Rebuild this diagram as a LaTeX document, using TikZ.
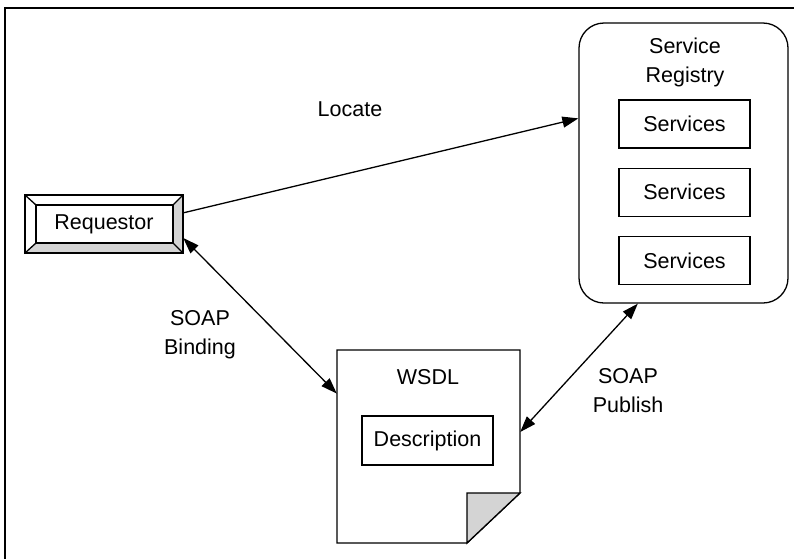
\documentclass[tikz,border=0pt]{standalone}
\usepackage{fontspec}
\setmainfont{Liberation Sans}
\usetikzlibrary{arrows.meta,calc,positioning}
\definecolor{BevelGray}{HTML}{D4D4D4}
\tikzset{
  lbl/.style={font=\fontsize{21.5}{29}\selectfont,align=center,inner sep=0pt},
  svcbox/.style={draw,line width=1.3pt,minimum width=131pt,minimum height=48pt,
    inner sep=0pt,font=\fontsize{21.5}{26}\selectfont},
  link/.style={line width=1.3pt,{Triangle[length=16pt,width=11pt]}-{Triangle[length=16pt,width=11pt]}}
}
\begin{document}
\begin{tikzpicture}[x=1pt,y=-1pt]

        \useasboundingbox (0,0) rectangle (794,558);
        \draw[line width=1.3pt] (5,8) rectangle (820,580);

        % requestor with bevel
        \node[minimum width=158pt,minimum height=58pt,inner sep=0pt]
          (req) at (104,224) {};
        \fill[white] (25,195) -- (183,195) -- (173,205) -- (36,205) -- (36,243) -- (25,253) -- cycle;
        \fill[BevelGray] (183,195) -- (183,253) -- (25,253) -- (36,243) -- (173,243) -- (173,205) -- cycle;
        \draw[line width=1.3pt] (25,195) -- (36,205) (183,195) -- (173,205)
          (183,253) -- (173,243) (25,253) -- (36,243);
        \draw[line width=1.3pt] (36,205) rectangle (173,243);
        \draw[line width=2pt] (25,195) rectangle (183,253);
        \node[lbl] at (req) {Requestor};

        % service registry
        \node[draw,rounded corners=25pt,line width=1.3pt,minimum width=209pt,
          minimum height=280pt,inner sep=0pt] (reg) at (683.5,163) {};
        \node[lbl] (regtitle) at (685,62) {Service\\Registry};
        \node[svcbox] (svc1) at (684.5,124) {Services};
        \node[svcbox,below=19pt of svc1] (svc2) {Services};
        \node[svcbox,below=19pt of svc2] (svc3) {Services};

        % wsdl document
        \node[minimum width=183pt,minimum height=193pt,inner sep=0pt]
          (wsdl) at (428.5,446.5) {};
        \draw[line width=1.3pt,fill=white]
          (337,350) -- (520,350) -- (520,493) -- (467,543) -- (337,543) -- cycle;
        \draw[line width=1.3pt,fill=BevelGray] (467,493) -- (520,493) -- (467,543) -- cycle;
        \node[lbl] (wsdltitle) at (428,377) {WSDL};
        \node[svcbox,minimum width=131pt,minimum height=49pt]
          (desc) at (427.5,440.5) {Description};

        % connectors
        \draw[line width=1.3pt,-{Triangle[length=16pt,width=11pt]}] (req.8) -- (reg.157);
        \draw[link] (req.-10) -- (wsdl.150);
        \draw[link] (wsdl.9) -- (reg.252);

        \node[lbl] (locate) at (350,109) {Locate};
        \node[lbl] (binding) at (200,335) {SOAP\\Binding};
        \node[lbl] (publish) at (628,391) {SOAP\\Publish};

      \end{tikzpicture}
\end{document}
